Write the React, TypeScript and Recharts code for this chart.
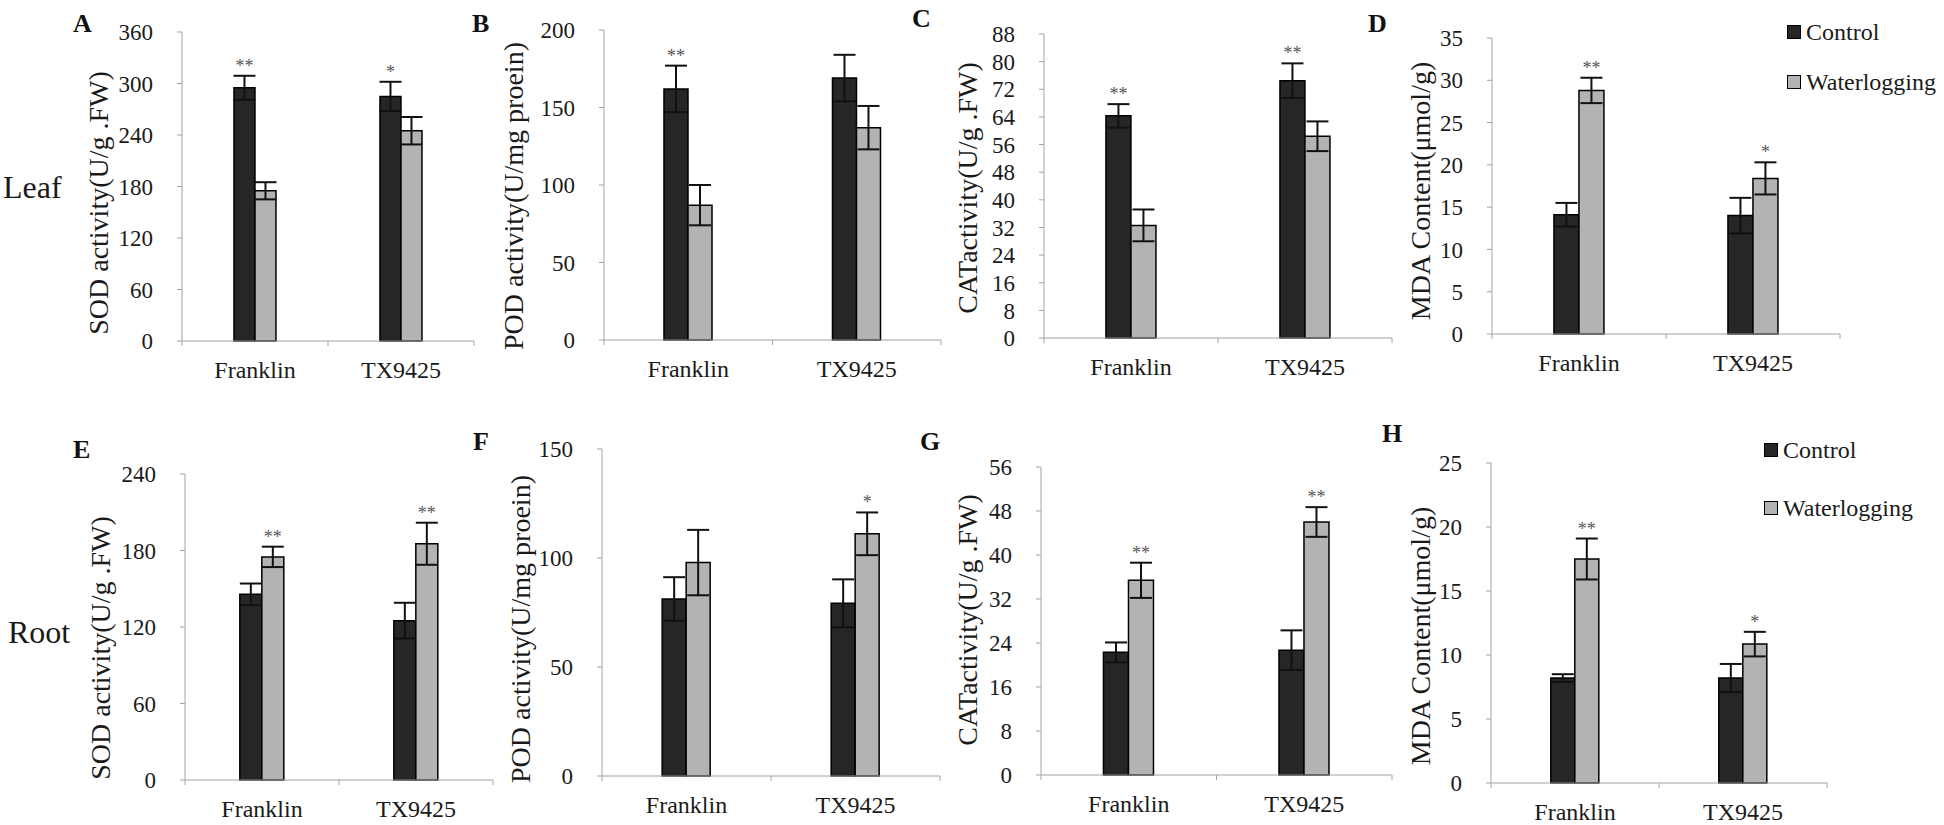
import React from 'react';
import {
  BarChart,
  Bar,
  XAxis,
  YAxis,
  ErrorBar,
  LabelList,
  Legend,
} from 'recharts';

const FONT = '"Liberation Serif", "Times New Roman", serif';
const AXIS = '#a3a3a3';
const CTRL_FILL = '#262626';
const WL_FILL = '#b3b3b3';

// categories
const groups = ['Franklin', 'TX9425'];

// Leaf - SOD
const sodLeafCtrl = [295, 285];
const sodLeafCtrlErr = [14, 17];
const sodLeafWl = [175, 245];
const sodLeafWlErr = [10, 16];
const sodLeafTicks = [0, 60, 120, 180, 240, 300, 360];

// Leaf - POD
const podLeafCtrl = [162, 169];
const podLeafCtrlErr = [15, 15];
const podLeafWl = [87, 137];
const podLeafWlErr = [13, 14];
const podLeafTicks = [0, 50, 100, 150, 200];

// Leaf - CAT
const catLeafCtrl = [64.3, 74.5];
const catLeafCtrlErr = [3.4, 5];
const catLeafWl = [32.6, 58.4];
const catLeafWlErr = [4.6, 4.3];
const catLeafTicks = [0, 8, 16, 24, 32, 40, 48, 56, 64, 72, 80, 88];

// Leaf - MDA
const mdaLeafCtrl = [14.1, 14.0];
const mdaLeafCtrlErr = [1.4, 2.1];
const mdaLeafWl = [28.8, 18.4];
const mdaLeafWlErr = [1.5, 1.9];
const mdaLeafTicks = [0, 5, 10, 15, 20, 25, 30, 35];

// Root - SOD
const sodRootCtrl = [145.6, 125];
const sodRootCtrlErr = [8.5, 14];
const sodRootWl = [175, 185.3];
const sodRootWlErr = [8, 16.5];
const sodRootTicks = [0, 60, 120, 180, 240];

// Root - POD
const podRootCtrl = [81.2, 79.2];
const podRootCtrlErr = [10, 11];
const podRootWl = [97.9, 111.1];
const podRootWlErr = [15, 9.8];
const podRootTicks = [0, 50, 100, 150];

// Root - CAT
const catRootCtrl = [22.3, 22.7];
const catRootCtrlErr = [1.8, 3.6];
const catRootWl = [35.4, 46];
const catRootWlErr = [3.2, 2.7];
const catRootTicks = [0, 8, 16, 24, 32, 40, 48, 56];

// Root - MDA
const mdaRootCtrl = [8.2, 8.2];
const mdaRootCtrlErr = [0.3, 1.1];
const mdaRootWl = [17.5, 10.85];
const mdaRootWlErr = [1.6, 0.96];
const mdaRootTicks = [0, 5, 10, 15, 20, 25];

// significance marks
const sigA = { ctrl: ['**', '*'], wl: ['', ''] };
const sigB = { ctrl: ['**', ''], wl: ['', ''] };
const sigC = { ctrl: ['**', '**'], wl: ['', ''] };
const sigD = { ctrl: ['', ''], wl: ['**', '*'] };
const sigE = { ctrl: ['', ''], wl: ['**', '**'] };
const sigF = { ctrl: ['', ''], wl: ['', '*'] };
const sigG = { ctrl: ['', ''], wl: ['**', '**'] };
const sigH = { ctrl: ['', ''], wl: ['**', '*'] };

const sodTitle = 'SOD activity(U/g .FW)';
const podTitle = 'POD activity(U/mg proein)';
const catTitle = 'CATactivity(U/g .FW)';
const mdaTitle = 'MDA Content(μmol/g)';

const panels = [
  { ctrl: sodLeafCtrl, ctrlErr: sodLeafCtrlErr, wl: sodLeafWl, wlErr: sodLeafWlErr, ticks: sodLeafTicks, sig: sigA },
  { ctrl: podLeafCtrl, ctrlErr: podLeafCtrlErr, wl: podLeafWl, wlErr: podLeafWlErr, ticks: podLeafTicks, sig: sigB },
  { ctrl: catLeafCtrl, ctrlErr: catLeafCtrlErr, wl: catLeafWl, wlErr: catLeafWlErr, ticks: catLeafTicks, sig: sigC },
  { ctrl: mdaLeafCtrl, ctrlErr: mdaLeafCtrlErr, wl: mdaLeafWl, wlErr: mdaLeafWlErr, ticks: mdaLeafTicks, sig: sigD },
  { ctrl: sodRootCtrl, ctrlErr: sodRootCtrlErr, wl: sodRootWl, wlErr: sodRootWlErr, ticks: sodRootTicks, sig: sigE },
  { ctrl: podRootCtrl, ctrlErr: podRootCtrlErr, wl: podRootWl, wlErr: podRootWlErr, ticks: podRootTicks, sig: sigF },
  { ctrl: catRootCtrl, ctrlErr: catRootCtrlErr, wl: catRootWl, wlErr: catRootWlErr, ticks: catRootTicks, sig: sigG },
  { ctrl: mdaRootCtrl, ctrlErr: mdaRootCtrlErr, wl: mdaRootWl, wlErr: mdaRootWlErr, ticks: mdaRootTicks, sig: sigH },
];

// layout: plot box of each panel, title / letter placement
const layout = [
  { x0: 182, y0: 32, x1: 474, y1: 341, letter: 'A', lx: 73, ly: 32, title: sodTitle, tx: 98, ty: 203 },
  { x0: 604, y0: 30, x1: 941, y1: 340, letter: 'B', lx: 472, ly: 32, title: podTitle, tx: 513, ty: 196 },
  { x0: 1044, y0: 34, x1: 1392, y1: 338, letter: 'C', lx: 912, ly: 27, title: catTitle, tx: 967, ty: 188 },
  { x0: 1492, y0: 38, x1: 1840, y1: 334, letter: 'D', lx: 1368, ly: 32, title: mdaTitle, tx: 1420, ty: 191, legend: { x: 1787, y: 20, gap: 50 } },
  { x0: 185, y0: 474, x1: 493, y1: 780, letter: 'E', lx: 73, ly: 458, title: sodTitle, tx: 100, ty: 648 },
  { x0: 602, y0: 449, x1: 940, y1: 776, letter: 'F', lx: 473, ly: 450, title: podTitle, tx: 520, ty: 629 },
  { x0: 1041, y0: 467, x1: 1392, y1: 775, letter: 'G', lx: 920, ly: 450, title: catTitle, tx: 967, ty: 620 },
  { x0: 1491, y0: 463, x1: 1827, y1: 783, letter: 'H', lx: 1382, ly: 442, title: mdaTitle, tx: 1420, ty: 636, legend: { x: 1764, y: 438, gap: 58 } },
];

const rowLabels = [
  { text: 'Leaf', x: 3, y: 198 },
  { text: 'Root', x: 8, y: 643 },
];

const LEFT = 130;
const TOP = 40;
const RIGHT = 20;
const BOTTOM = 60;

const CatTick = ({ x, y, payload, index, catW }: any) => (
  <g>
    <line x1={x - catW / 2} x2={x - catW / 2} y1={y} y2={y + 5} stroke={AXIS} />
    {index === groups.length - 1 && (
      <line x1={x + catW / 2} x2={x + catW / 2} y1={y} y2={y + 5} stroke={AXIS} />
    )}
    <text x={x} y={y + 37} textAnchor="middle" fontSize={24} fontFamily={FONT} fill="#1a1a1a">
      {payload.value}
    </text>
  </g>
);

const sigLabel = (data: any[], valKey: string, errKey: string) => (props: any) => {
  const { x, y, width, height, index, value } = props;
  if (!value) return null;
  const row = data[index];
  const errPx = (row[errKey] * height) / row[valKey];
  return (
    <text
      x={x + width / 2}
      y={y - errPx - 4}
      textAnchor="middle"
      fontSize={18}
      fontFamily={FONT}
      fill="#555"
    >
      {value}
    </text>
  );
};

const LegendContent = ({ payload, gap }: any) => (
  <div style={{ fontFamily: FONT, fontSize: 24, color: '#1a1a1a', lineHeight: '24px' }}>
    {(payload || []).map((entry: any, i: number) => (
      <div key={i} style={{ display: 'flex', alignItems: 'center', height: 24, marginBottom: i === 0 ? gap - 24 : 0 }}>
        <span
          style={{
            display: 'inline-block',
            width: 12,
            height: 12,
            background: entry.color,
            border: '1.5px solid #000',
            marginRight: 5,
          }}
        />
        <span>{entry.value}</span>
      </div>
    ))}
  </div>
);

const Panel = ({ p, l }: any) => {
  const data = groups.map((g, i) => ({
    name: g,
    ctrl: p.ctrl[i],
    ctrlErr: p.ctrlErr[i],
    wl: p.wl[i],
    wlErr: p.wlErr[i],
    ctrlSig: p.sig.ctrl[i],
    wlSig: p.sig.wl[i],
  }));
  const plotW = l.x1 - l.x0;
  const plotH = l.y1 - l.y0;
  const left = l.x0 - LEFT;
  const top = l.y0 - TOP;
  const catW = plotW / groups.length;
  const max = p.ticks[p.ticks.length - 1];

  return (
    <div style={{ position: 'absolute', left, top }}>
      <BarChart
        width={plotW + LEFT + RIGHT}
        height={plotH + TOP + BOTTOM}
        data={data}
        margin={{ top: TOP, right: RIGHT, bottom: 0, left: 0 }}
        barCategoryGap="35.6%"
        barGap={0}
      >
        <XAxis
          dataKey="name"
          height={BOTTOM}
          stroke={AXIS}
          tickSize={0}
          tickMargin={0}
          interval={0}
          tick={(props: any) => <CatTick {...props} catW={catW} />}
        />
        <YAxis
          width={LEFT}
          domain={[0, max]}
          ticks={p.ticks}
          interval={0}
          stroke={AXIS}
          tickSize={5}
          tickMargin={24}
          tick={{ fill: '#1a1a1a', fontSize: 23, fontFamily: FONT }}
        />
        {l.legend && (
          <Legend
            layout="vertical"
            align="center"
            verticalAlign="middle"
            wrapperStyle={{ left: l.legend.x - left, top: l.legend.y - top, width: 'auto', right: 'auto', bottom: 'auto' }}
            content={(props: any) => <LegendContent {...props} gap={l.legend.gap} />}
          />
        )}
        <Bar dataKey="ctrl" name="Control" fill={CTRL_FILL} stroke="#000" strokeWidth={1.5} isAnimationActive={false}>
          <ErrorBar dataKey="ctrlErr" width={11} strokeWidth={2} stroke="#111" direction="y" isAnimationActive={false} />
          <LabelList dataKey="ctrlSig" content={sigLabel(data, 'ctrl', 'ctrlErr')} />
        </Bar>
        <Bar dataKey="wl" name="Waterlogging" fill={WL_FILL} stroke="#000" strokeWidth={1.5} isAnimationActive={false}>
          <ErrorBar dataKey="wlErr" width={11} strokeWidth={2} stroke="#111" direction="y" isAnimationActive={false} />
          <LabelList dataKey="wlSig" content={sigLabel(data, 'wl', 'wlErr')} />
        </Bar>
      </BarChart>
    </div>
  );
};

export default function App() {
  return (
    <div
      style={{
        position: 'absolute',
        left: 0,
        top: 0,
        width: 1944,
        height: 825,
        background: '#fff',
        overflow: 'hidden',
      }}
    >
      {panels.map((p, i) => (
        <Panel key={i} p={p} l={layout[i]} />
      ))}
      <svg
        width={1944}
        height={825}
        style={{ position: 'absolute', left: 0, top: 0, pointerEvents: 'none' }}
      >
        {layout.map((l, i) => (
          <g key={i}>
            <text x={l.lx} y={l.ly} fontSize={26} fontWeight="bold" fontFamily={FONT} fill="#111">
              {l.letter}
            </text>
            <text
              transform={`translate(${l.tx},${l.ty}) rotate(-90)`}
              textAnchor="middle"
              dominantBaseline="central"
              fontSize={28}
              fontFamily={FONT}
              fill="#1a1a1a"
            >
              {l.title}
            </text>
          </g>
        ))}
        {rowLabels.map((r) => (
          <text key={r.text} x={r.x} y={r.y} fontSize={32} fontFamily={FONT} fill="#1a1a1a">
            {r.text}
          </text>
        ))}
      </svg>
    </div>
  );
}
